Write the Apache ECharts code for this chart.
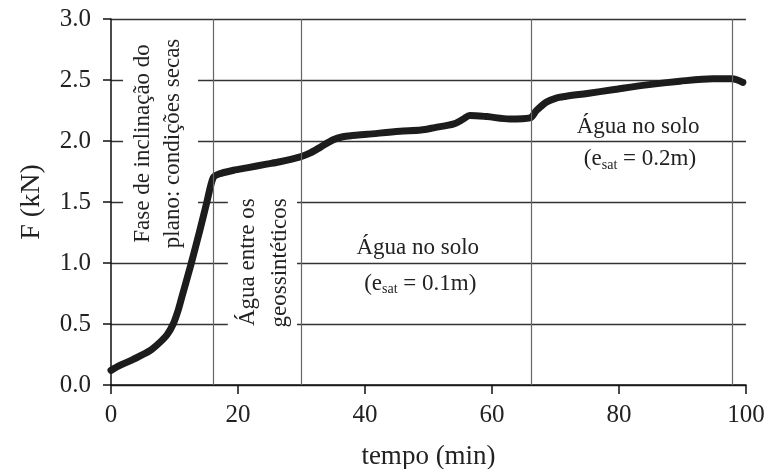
<!DOCTYPE html>
<html>
<head>
<meta charset="utf-8">
<script src="https://cdn.jsdelivr.net/npm/echarts@6/dist/echarts.min.js"></script>
<style>
html,body{margin:0;padding:0;background:#fff;}
#c{width:769px;height:469px;}
</style>
</head>
<body>
<div id="c"></div>
<script>
// ---- data ----
const tempo = [0, 1.4, 3.5, 6.1, 7.5, 8.8, 9.8, 10.5, 11.1, 12.6, 14, 15.1, 16.1, 17, 19.3, 21.4, 24.5, 26.6, 29.8, 31.3, 33, 35, 36.5, 38, 40.3, 45.5, 48.8, 51, 54, 55.5, 56.5, 59.2, 62.8, 66, 67, 68.6, 70, 71.5, 75, 79, 84.4, 89.6, 94.8, 97.8, 99.5];
const forca = [0.12, 0.16, 0.21, 0.28, 0.34, 0.41, 0.50, 0.60, 0.71, 0.99, 1.27, 1.50, 1.70, 1.73, 1.76, 1.78, 1.81, 1.83, 1.87, 1.90, 1.95, 2.01, 2.035, 2.045, 2.055, 2.08, 2.09, 2.11, 2.14, 2.18, 2.21, 2.20, 2.18, 2.19, 2.25, 2.32, 2.35, 2.365, 2.39, 2.42, 2.46, 2.49, 2.51, 2.51, 2.48];
const phaseLines = [16.1, 30, 66.2, 97.8];
const xTicks = [0, 20, 40, 60, 80, 100];
const yTicks = ['0.0', '0.5', '1.0', '1.5', '2.0', '2.5', '3.0'];

const FONT = '"Liberation Serif", "Times New Roman", serif';
const TXT = '#222';

const chart = echarts.init(document.getElementById('c'), null, {renderer: 'canvas'});
const option = {
  backgroundColor: '#fff',
  animation: false,
  grid: {left: 111, right: 23, top: 19, bottom: 84, containLabel: false, outerBoundsMode: 'none'},
  xAxis: {
    type: 'value', min: 0, max: 100, interval: 20,
    name: 'tempo (min)', nameLocation: 'middle', nameGap: 58,
    nameTextStyle: {fontFamily: FONT, fontSize: 27, color: TXT},
    axisLine: {show: true, onZero: false, lineStyle: {color: '#111', width: 1.5}},
    axisTick: {show: true, length: 9, lineStyle: {color: '#111', width: 1.5}},
    axisLabel: {fontFamily: FONT, fontSize: 25, color: TXT, margin: 18,
      formatter: v => xTicks.includes(v) ? String(v) : ''},
    splitLine: {show: false}
  },
  yAxis: {
    type: 'value', min: 0, max: 3, interval: 0.5,
    name: 'F (kN)', nameLocation: 'middle', nameGap: 65, nameRotate: 90,
    nameTextStyle: {fontFamily: FONT, fontSize: 28, color: TXT},
    axisLine: {show: true, onZero: false, lineStyle: {color: '#111', width: 1.5}},
    axisTick: {show: true, length: 8, lineStyle: {color: '#111', width: 1.5}},
    axisLabel: {fontFamily: FONT, fontSize: 25, color: TXT, margin: 20,
      formatter: v => yTicks[Math.round(v * 2)]},
    splitLine: {show: true, lineStyle: {color: '#333', width: 1.3}}
  },
  series: [{
    type: 'line',
    data: tempo.map((t, i) => [t, forca[i]]),
    showSymbol: false,
    smooth: 0.3,
    z: 3,
    lineStyle: {color: '#1c1c1c', width: 7, join: 'round', cap: 'round'},
    markLine: {
      silent: true, symbol: 'none', label: {show: false},
      lineStyle: {color: '#666', width: 1.2, type: 'solid'},
      data: phaseLines.map(x => ({xAxis: x}))
    }
  }]
};
chart.setOption(option);

const P = (x, y) => chart.convertToPixel({gridIndex: 0}, [x, y]);
function rectFrom(x1, y1, x2, y2) {
  const a = P(x1, y1), b = P(x2, y2);
  return {type: 'rect', z: 1, silent: true,
    shape: {x: Math.min(a[0], b[0]), y: Math.min(a[1], b[1]), width: Math.abs(b[0] - a[0]), height: Math.abs(b[1] - a[1])},
    style: {fill: '#fff'}};
}
function textAt(x, y, text, opts) {
  const p = P(x, y);
  return Object.assign({type: 'text', z: 4, silent: true, x: p[0], y: p[1],
    style: Object.assign({text: text, font: '23px ' + FONT, fill: TXT, align: 'center', verticalAlign: 'middle'}, opts.style || {})},
    opts.extra || {});
}
const rich = {
  b: {fontFamily: FONT, fontSize: 23, fill: TXT, lineHeight: 26},
  sub: {fontFamily: FONT, fontSize: 14, fill: TXT, lineHeight: 14, verticalAlign: 'bottom'}
};
chart.setOption({
  graphic: [
    rectFrom(1.9, 2.95, 13.7, 1.12),
    rectFrom(18.4, 1.6, 29.3, 0.37),
    textAt(7.4, 1.98, 'Fase de inclinação do\nplano: condições secas',
      {style: {lineHeight: 30}, extra: {rotation: Math.PI / 2}}),
    textAt(24.1, 1.53, 'Água entre os\ngeossintéticos',
      {style: {lineHeight: 32, align: 'right'}, extra: {rotation: Math.PI / 2}}),
    textAt(48.3, 1.12, 'Água no solo', {}),
    textAt(48.7, 0.83, '{b|(e}{sub|sat}{b| = 0.1m)}', {style: {rich: rich}}),
    textAt(83.0, 2.115, 'Água no solo', {}),
    textAt(83.3, 1.85, '{b|(e}{sub|sat}{b| = 0.2m)}', {style: {rich: rich}})
  ]
});
</script>
</body>
</html>
